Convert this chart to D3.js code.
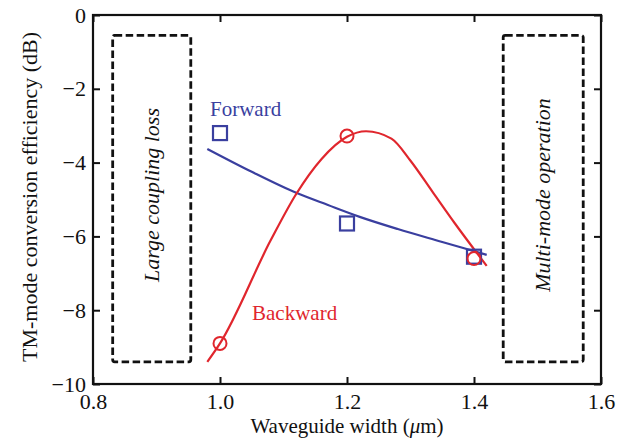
<!DOCTYPE html>
<html><head><meta charset="utf-8">
<script src="https://cdn.jsdelivr.net/npm/d3@7/dist/d3.min.js"></script>
<style>body{margin:0;background:#fff}svg{display:block}text{font-family:"Liberation Serif","Times New Roman",serif}</style>
</head><body><svg id="c" width="638" height="441"></svg>
<script>
// ---- data ----
const widths = [1.0, 1.2, 1.4];
const forwardMeasured = [-3.2, -5.65, -6.55];
const backwardMeasured = [-8.9, -3.28, -6.6];
const forwardFitX = [0.98, 1.05, 1.12, 1.17, 1.22, 1.28, 1.35, 1.42];
const forwardFitY = [-3.63, -4.25, -4.82, -5.15, -5.47, -5.8, -6.15, -6.5];
const backwardFitX = [0.98, 1.0, 1.08, 1.12, 1.16, 1.2, 1.23, 1.27, 1.3, 1.335, 1.37, 1.42];
const backwardFitY = [-9.4, -8.9, -6.1, -4.85, -3.9, -3.3, -3.15, -3.35, -3.95, -4.8, -5.65, -6.8];
const xTicks = [0.8, 1.0, 1.2, 1.4, 1.6];
const yTicks = [0, -2, -4, -6, -8, -10];
const regionBoxes = [
  {label: "Large coupling loss", x0: 0.831, x1: 0.954, y0: -0.55, y1: -9.4},
  {label: "Multi-mode operation", x0: 1.446, x1: 1.572, y0: -0.55, y1: -9.4}
];
const seriesNames = ["Forward", "Backward"];

// ---- drawing ----
const blue = "#3a3f9f", red = "#e0262d";
const svg = d3.select("#c");
const L = 93, R = 601, T = 15, B = 384;
const x = d3.scaleLinear().domain([0.8, 1.6]).range([L, R]);
const y = d3.scaleLinear().domain([-10, 0]).range([B, T]);
const fs = 21;

// region boxes
regionBoxes.forEach(b => {
  svg.append("rect")
    .attr("x", x(b.x0)).attr("y", y(b.y0))
    .attr("width", x(b.x1) - x(b.x0)).attr("height", y(b.y1) - y(b.y0))
    .attr("rx", 2)
    .attr("fill", "none").attr("stroke", "#111").attr("stroke-width", 2.8)
    .attr("stroke-dasharray", "7.5,3.5");
  const cx = (x(b.x0) + x(b.x1)) / 2, cy = 195;
  svg.append("text").attr("transform", `translate(${cx + 7},${cy}) rotate(-90)`)
    .attr("text-anchor", "middle").attr("font-style", "italic")
    .attr("font-size", 22).attr("fill", "#111").text(b.label);
});

// axes (inward ticks)
const fmtX = d3.format(".1f");
const gB = svg.append("g").attr("transform", `translate(0,${B})`)
  .call(d3.axisBottom(x).tickValues(xTicks).tickFormat(fmtX).tickSizeInner(-7).tickSizeOuter(0).tickPadding(9));
const gT = svg.append("g").attr("transform", `translate(0,${T})`)
  .call(d3.axisTop(x).tickValues(xTicks).tickFormat("").tickSizeInner(-7).tickSizeOuter(0));
const gL = svg.append("g").attr("transform", `translate(${L},0)`)
  .call(d3.axisLeft(y).tickValues(yTicks).tickFormat(d3.format("d")).tickSizeInner(-7).tickSizeOuter(0).tickPadding(7));
const gR = svg.append("g").attr("transform", `translate(${R},0)`)
  .call(d3.axisRight(y).tickValues(yTicks).tickFormat("").tickSizeInner(-7).tickSizeOuter(0));
[gB, gT, gL, gR].forEach(g => {
  g.select(".domain").remove();
  g.selectAll("line").attr("stroke", "#111").attr("stroke-width", 2);
  g.selectAll("text").attr("font-size", 22).attr("fill", "#111")
    .style("font-family", '"Liberation Serif","Times New Roman",serif');
});
svg.append("rect").attr("x", L).attr("y", T).attr("width", R - L).attr("height", B - T)
  .attr("fill", "none").attr("stroke", "#111").attr("stroke-width", 2.2);

// axis titles
svg.append("text").attr("x", (L + R) / 2).attr("y", 433).attr("text-anchor", "middle")
  .attr("font-size", fs).attr("fill", "#111")
  .html('Waveguide width (<tspan font-style="italic">μ</tspan>m)');
svg.append("text").attr("transform", `translate(37,197) rotate(-90)`).attr("text-anchor", "middle")
  .attr("font-size", 22).attr("fill", "#111").text("TM-mode conversion efficiency (dB)");

// fitted curves
const line = d3.line().x(d => x(d[0])).y(d => y(d[1])).curve(d3.curveMonotoneX);
svg.append("path").datum(d3.zip(forwardFitX, forwardFitY)).attr("d", line)
  .attr("fill", "none").attr("stroke", blue).attr("stroke-width", 2.2);
svg.append("path").datum(d3.zip(backwardFitX, backwardFitY)).attr("d", line)
  .attr("fill", "none").attr("stroke", red).attr("stroke-width", 2.2);

// markers
const sq = 14;
svg.selectAll("rect.fw").data(d3.zip(widths, forwardMeasured)).join("rect").attr("class", "fw")
  .attr("x", d => x(d[0]) - sq / 2).attr("y", d => y(d[1]) - sq / 2)
  .attr("width", sq).attr("height", sq)
  .attr("fill", "none").attr("stroke", blue).attr("stroke-width", 2.2);
svg.selectAll("circle.bw").data(d3.zip(widths, backwardMeasured)).join("circle").attr("class", "bw")
  .attr("cx", d => x(d[0])).attr("cy", d => y(d[1])).attr("r", 6.5)
  .attr("fill", "none").attr("stroke", red).attr("stroke-width", 2);

// series labels
svg.append("text").attr("x", 210).attr("y", 116).attr("font-size", 21).attr("fill", blue).text(seriesNames[0]);
svg.append("text").attr("x", 252).attr("y", 320).attr("font-size", 21).attr("fill", red).text(seriesNames[1]);
</script></body></html>
